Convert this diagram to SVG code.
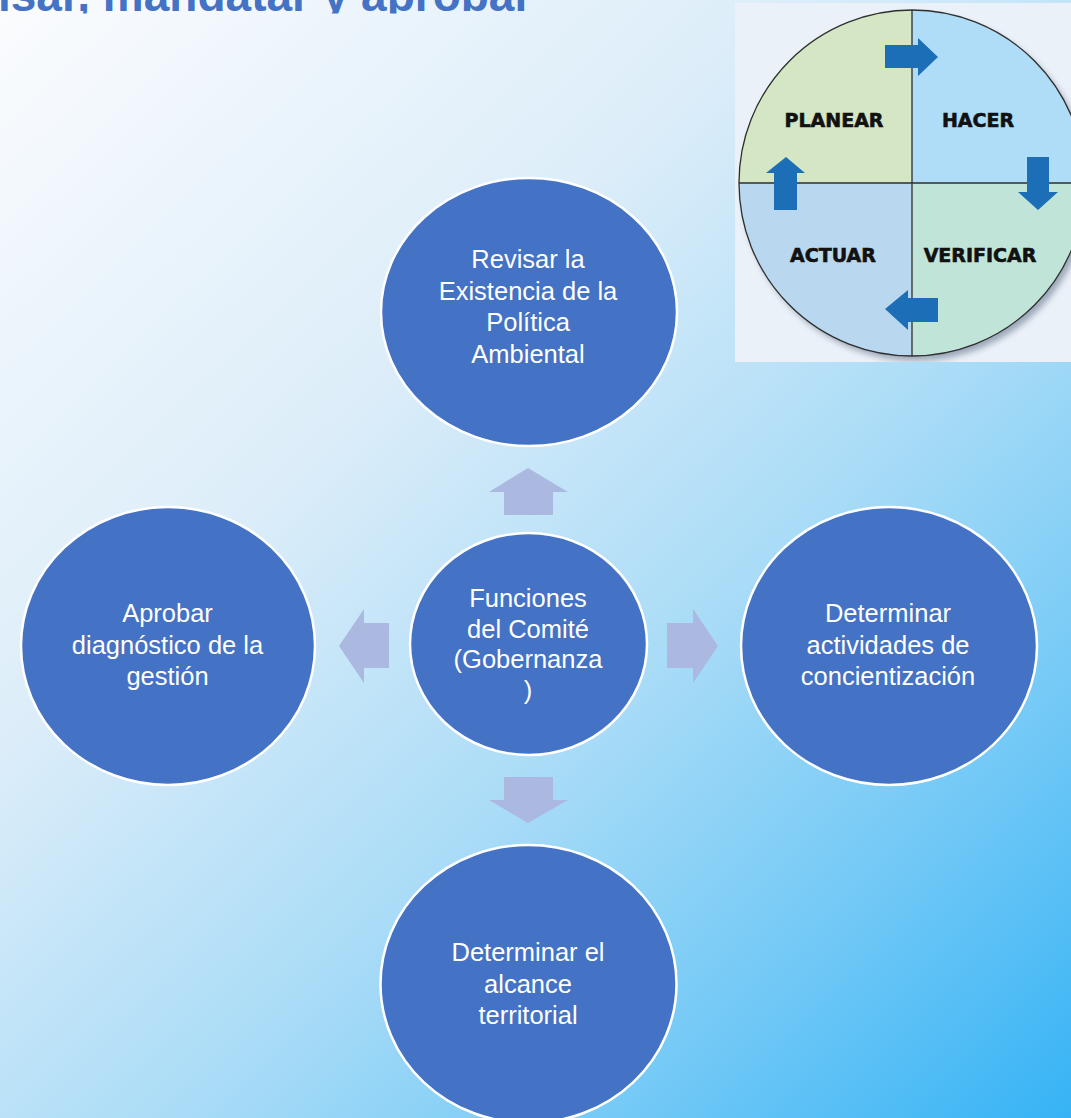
<svg xmlns="http://www.w3.org/2000/svg" width="1071" height="1118" viewBox="0 0 1071 1118">
<defs>
<linearGradient id="bg" x1="0" y1="0" x2="1071" y2="1118" gradientUnits="userSpaceOnUse">
<stop offset="0" stop-color="#fbfcfe"/>
<stop offset="0.35" stop-color="#dcedf9"/>
<stop offset="0.6" stop-color="#aadcf7"/>
<stop offset="0.8" stop-color="#73c9f6"/>
<stop offset="1" stop-color="#36b3f5"/>
</linearGradient>
<clipPath id="titleClip"><rect x="-10" y="-10" width="700" height="23.5"/></clipPath>
<clipPath id="imgClip"><rect x="735" y="3" width="336" height="359"/></clipPath>
<filter id="shadow" x="-10%" y="-10%" width="130%" height="130%"><feGaussianBlur stdDeviation="3"/></filter>
<style>
.node{fill:#4472c4;stroke:#ffffff;stroke-width:2.5}
.lbl{fill:#ffffff;font-family:"Liberation Sans",Arial,sans-serif;font-size:25.5px;text-anchor:middle}
.conn{fill:#abb8df}
.pdca{font-family:"DejaVu Sans",Verdana,sans-serif;font-weight:bold;font-size:19px;fill:#111111;stroke:#111111;stroke-width:0.6;text-anchor:middle}
.barrow{fill:#1c6fb6}
.qline{stroke:#2e2e2e;stroke-width:1.3;fill:none}
</style>
</defs>
<rect x="0" y="0" width="1071" height="1118" fill="url(#bg)"/>
<g id="title" clip-path="url(#titleClip)">
<text x="-2" y="11" font-family="'Liberation Sans',Arial,sans-serif" font-weight="bold" font-size="46" fill="#4472c4">isar, mandatar y aprobar</text>
</g>
<g id="pdca" clip-path="url(#imgClip)">
<rect x="735" y="3" width="336" height="359" fill="#ebf1f8"/>
<circle cx="916" cy="188" r="173" fill="#6f8095" opacity="0.65" filter="url(#shadow)"/>
<path d="M912,183 L739,183 A173,173 0 0 1 912,10 Z" fill="#d4e6c3"/>
<path d="M912,183 L912,10 A173,173 0 0 1 1085,183 Z" fill="#afdcf6"/>
<path d="M912,183 L1085,183 A173,173 0 0 1 912,356 Z" fill="#c0e4d7"/>
<path d="M912,183 L912,356 A173,173 0 0 1 739,183 Z" fill="#b9d7ef"/>
<line class="qline" x1="912" y1="10" x2="912" y2="356"/>
<line class="qline" x1="739" y1="183" x2="1085" y2="183"/>
<circle class="qline" cx="912" cy="183" r="173"/>
<text class="pdca" x="834" y="127">PLANEAR</text>
<text class="pdca" x="978" y="127">HACER</text>
<text class="pdca" x="833" y="262">ACTUAR</text>
<text class="pdca" x="980" y="262">VERIFICAR</text>
<polygon class="barrow" points="885,45 918,45 918,38 938,57 918,76 918,68 885,68"/>
<polygon class="barrow" points="1027,157 1049,157 1049,192 1058,192 1038,210 1018,192 1027,192"/>
<polygon class="barrow" points="938,298 938,322 908,322 908,330 885,309 908,290 908,298"/>
<polygon class="barrow" points="786,157 805,173 797,173 797,210 774,210 774,173 766,173"/>
</g>
<g id="connectors">
<polygon class="conn" points="528,468 568,492 553,492 553,515 504,515 504,492 489,492"/>
<polygon class="conn" points="504,777 553,777 553,800 568,800 528,823 489,800 504,800"/>
<polygon class="conn" points="339,646 364,609 364,623 389,623 389,668 364,668 364,683"/>
<polygon class="conn" points="667,623 693,623 693,609 718,646 693,683 693,668 667,668"/>
</g>
<g id="node-top">
<ellipse class="node" cx="529" cy="312" rx="148" ry="134"/>
<text class="lbl" x="528" y="268">Revisar la</text>
<text class="lbl" x="528" y="299.5">Existencia de la</text>
<text class="lbl" x="528" y="331">Política</text>
<text class="lbl" x="528" y="362.5">Ambiental</text>
</g>
<g id="node-center">
<ellipse class="node" cx="528.5" cy="644" rx="118.5" ry="111"/>
<text class="lbl" x="528" y="607">Funciones</text>
<text class="lbl" x="528" y="637.5">del Comité</text>
<text class="lbl" x="528" y="668">(Gobernanza</text>
<text class="lbl" x="528" y="698.5">)</text>
</g>
<g id="node-left">
<ellipse class="node" cx="168" cy="646" rx="147" ry="139"/>
<text class="lbl" x="167.5" y="622">Aprobar</text>
<text class="lbl" x="167.5" y="653.5">diagnóstico de la</text>
<text class="lbl" x="167.5" y="685">gestión</text>
</g>
<g id="node-right">
<ellipse class="node" cx="889" cy="646" rx="148" ry="139"/>
<text class="lbl" x="888" y="622">Determinar</text>
<text class="lbl" x="888" y="653.5">actividades de</text>
<text class="lbl" x="888" y="685">concientización</text>
</g>
<g id="node-bottom">
<ellipse class="node" cx="528.5" cy="984" rx="148" ry="139"/>
<text class="lbl" x="528" y="961">Determinar el</text>
<text class="lbl" x="528" y="992.5">alcance</text>
<text class="lbl" x="528" y="1024">territorial</text>
</g>
</svg>
